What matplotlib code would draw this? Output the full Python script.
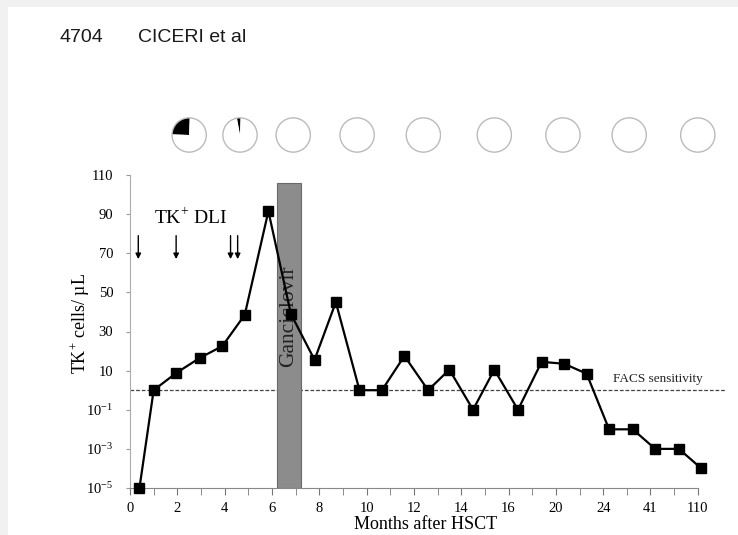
import numpy as np
import matplotlib
matplotlib.use("Agg")
import matplotlib.pyplot as plt
from matplotlib.patches import Rectangle

plt.rcParams['font.family'] = ['Liberation Serif', 'DejaVu Serif']
plt.rcParams['mathtext.fontset'] = 'custom'
plt.rcParams['mathtext.rm'] = 'Liberation Serif'

# positions on the (broken) month axis: one unit = one tick
x_labels = ['0', '2', '4', '6', '8', '10', '12', '14', '16', '20', '24', '41', '110']
pts_x = [0.4, 1.0, 1.95, 2.95, 3.9, 4.85, 5.85, 6.8, 7.8, 8.7, 9.7, 10.65, 11.6,
         12.6, 13.5, 14.5, 15.4, 16.4, 17.4, 18.35, 19.3, 20.25, 21.25, 22.2, 23.2, 24.15]
tk_cells = [1e-5, 1, 7.5, 16.5, 22.5, 38.5, 91.5, 39, 15.5, 45, 1, 1, 17.5,
            1, 10.5, 0.1, 10.5, 0.1, 14.5, 13.5, 7, 0.01, 0.01, 0.001, 0.001, 1e-4]

y_ticks = [1e-5, 1e-3, 1e-1, 10, 30, 50, 70, 90, 110]
y_labels = ['$\\mathregular{10^{-5}}$', '$\\mathregular{10^{-3}}$', '$\\mathregular{10^{-1}}$',
            '10', '30', '50', '70', '90', '110']

dli_x = [0.35, 1.95, 4.25, 4.55]
facs = 1
ganciclovir = (6.22, 7.22, 106)

# pies above the chart: fraction of TK+ cells (black)
pie_x = [2.5, 4.65, 6.9, 9.6, 12.4, 15.4, 18.3, 21.1, 24.0]
pie_frac = [0.25, 0.035, 0, 0, 0, 0, 0, 0, 0]


# log below 10 (2 decades per step), linear above 10 (20 per step)
def fwd(v):
    v = np.asarray(v, float)
    lo = (np.log10(np.clip(v, 1e-12, None)) + 5) / 2
    hi = 3 + (v - 10) / 20
    return np.where(v <= 10, lo, hi)


def inv(j):
    j = np.asarray(j, float)
    return np.where(j <= 3, 10 ** (2 * np.clip(j, -10, 3) - 5), 10 + (j - 3) * 20)


fig = plt.figure(figsize=(7.38, 5.35), dpi=100)
fig.patch.set_facecolor('#f1f1f1')
fig.patches.append(Rectangle((8 / 738, 0), 1, 1 - 7 / 535, transform=fig.transFigure,
                             facecolor='white', edgecolor='none', zorder=-10))

fig.text(59 / 738, 1 - 38 / 535, '4704', family='Liberation Sans', fontsize=14,
         color='#1a1a1a', va='center')
fig.text(138 / 738, 1 - 38 / 535, 'CICERI et al', family='Liberation Sans', fontsize=14,
         color='#1a1a1a', va='center')

ax = fig.add_axes([130 / 738, 47 / 535, 595 / 738, 313 / 535])
ax.set_yscale('function', functions=(fwd, inv))
ax.set_xlim(0, 25.15)
ax.set_ylim(1e-5, 110)

for s in ['top', 'right']:
    ax.spines[s].set_visible(False)
ax.spines['left'].set_color('#aaaaaa')
ax.spines['bottom'].set_color('#888888')
ax.spines['bottom'].set_bounds(0, 24)

ax.set_xticks(np.arange(0, 25, 2))
ax.set_xticklabels(x_labels)
ax.set_xticks(np.arange(1, 25, 2), minor=True)
ax.tick_params(axis='x', which='both', length=5, color='#777777', pad=5, labelsize=10.5)
ax.set_yticks(y_ticks)
ax.set_yticklabels(y_labels)
ax.yaxis.set_minor_locator(matplotlib.ticker.NullLocator())
ax.tick_params(axis='y', length=3, color='#999999', pad=9, labelsize=10.5)

# ganciclovir period
g0, g1, gtop = ganciclovir
ax.bar((g0 + g1) / 2, gtop - 1e-5, bottom=1e-5, width=g1 - g0, color='#8c8c8c',
       edgecolor='#6a6a6a', linewidth=0.8, zorder=2)
ax.text((g0 + g1) / 2, 38, 'Ganciclovir', rotation=90, ha='center', va='center',
        fontsize=15.5, color='#222222', zorder=3)

ax.axhline(facs, color='#444444', lw=0.9, ls=(0, (3, 1.5)), zorder=1)
ax.text(20.4, 3.8, 'FACS sensitivity', fontsize=9.5, va='center', ha='left', color='#222222')

ax.plot(pts_x, tk_cells, color='black', lw=1.6, marker='s', markersize=7.5,
        clip_on=False, zorder=4)

for xd in dli_x:
    ax.annotate('', xy=(xd, 67), xytext=(xd, 79),
                arrowprops=dict(arrowstyle='-|>', color='black', lw=1, mutation_scale=8,
                                shrinkA=0, shrinkB=0))
ax.text(1.0, 88, 'TK$^{+}$ DLI', fontsize=14, va='center', ha='left')

ax.set_ylabel('TK$^{+}$ cells/ µL', fontsize=13)
ax.yaxis.set_label_coords(-0.064, 0.527)
ax.set_xlabel('Months after HSCT', fontsize=13)
ax.xaxis.set_label_coords(0.497, -0.118)
ax.xaxis.label.set_verticalalignment('center')

# pies
inv_fig = fig.transFigure.inverted()
d = 36
for px, fr in zip(pie_x, pie_frac):
    cx = ax.transData.transform((px, 1))[0]
    fx, _ = inv_fig.transform((cx - d / 2, 0))
    pax = fig.add_axes([fx, (535 - 135 - d / 2) / 535, d / 738, d / 535])
    pax.pie([fr, 1 - fr], colors=['black', 'white'], startangle=88, counterclock=True,
            wedgeprops=dict(linewidth=0))
    pax.add_patch(plt.Circle((0, 0), 1, fill=False, edgecolor='#bbbbbb', lw=1))
    pax.set_xlim(-1.05, 1.05)
    pax.set_ylim(-1.05, 1.05)
    pax.set_aspect('auto')
    pax.axis('off')

fig.savefig('out.png', dpi=100)
